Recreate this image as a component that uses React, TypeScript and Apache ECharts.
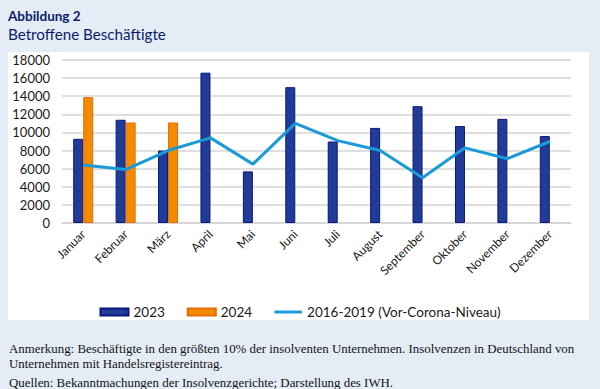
import React, { useEffect, useRef } from "react";
import * as echarts from "echarts";

const months = ["Januar", "Februar", "März", "April", "Mai", "Juni", "Juli", "August", "September", "Oktober", "November", "Dezember"];
const y2023 = [9300, 11400, 8000, 16600, 5700, 15000, 9000, 10500, 12900, 10700, 11500, 9600];
const y2024: (number | null)[] = [13900, 11100, 11100, null, null, null, null, null, null, null, null, null];
const vorCorona = [6400, 5900, 8000, 9400, 6500, 11000, 9100, 8000, 5000, 8300, 7100, 9000];

const titleLine1 = "Abbildung 2";
const titleLine2 = "Betroffene Beschäftigte";
const noteLines = [
  "Anmerkung: Beschäftigte in den größten 10% der insolventen Unternehmen. Insolvenzen in Deutschland von",
  "Unternehmen mit Handelsregistereintrag.",
];
const sourceLine = "Quellen: Bekanntmachungen der Insolvenzgerichte; Darstellung des IWH.";

export default function App() {
  const ref = useRef<HTMLDivElement>(null);
  useEffect(() => {
    if (!ref.current) return;
    const chart = echarts.init(ref.current, null, { renderer: "svg" });
    const font = "Lato, 'Open Sans', sans-serif";
    const serif = "'Liberation Serif', 'DejaVu Serif', serif";
    const noteFont = "12.9px " + serif;
    chart.setOption({
      animation: false,
      backgroundColor: "#e4ecf6",
      textStyle: { fontFamily: font },
      graphic: [
        { type: "rect", z: -10, silent: true, shape: { x: 8, y: 52, width: 581, height: 268 }, style: { fill: "#ffffff" } },
        { type: "text", left: 8, top: 9, style: { text: titleLine1, font: "bold 13.5px " + font, fill: "#0c1c6b" } },
        { type: "text", left: 8, top: 26, style: { text: titleLine2, font: "15.2px " + font, fill: "#0c1c6b" } },
        { type: "text", left: 9, top: 342, style: { text: noteLines[0], font: noteFont, fill: "#141414" } },
        { type: "text", left: 9, top: 357, style: { text: noteLines[1], font: noteFont, fill: "#141414" } },
        { type: "text", left: 9, top: 376, style: { text: sourceLine, font: noteFont, fill: "#141414" } },
      ],
      legend: {
        top: 300,
        left: "center",
        itemWidth: 28,
        itemHeight: 7,
        itemGap: 22,
        textStyle: { fontFamily: font, fontSize: 13.5, color: "#1a1a1a" },
        data: [
          { name: "2023", icon: "rect" },
          { name: "2024", icon: "rect" },
          { name: "2016-2019 (Vor-Corona-Niveau)", icon: "path://M1.5,0 L26.5,0 A1.5,1.5 0 0 1 26.5,3 L1.5,3 A1.5,1.5 0 0 1 1.5,0 Z" },
        ],
      },
      grid: { left: 62, right: 29, top: 60, bottom: 166 },
      xAxis: {
        type: "category",
        data: months,
        axisLine: { show: true, lineStyle: { color: "#d4d4d4", width: 1.5 } },
        axisTick: { show: false },
        axisLabel: { rotate: 45, interval: 0, fontSize: 12, color: "#1a1a1a", margin: 9, fontFamily: font },
      },
      yAxis: {
        type: "value",
        min: 0,
        max: 18000,
        interval: 2000,
        axisLine: { show: false },
        axisTick: { show: false },
        axisLabel: { fontSize: 13, color: "#1a1a1a", margin: 12, fontFamily: font, formatter: (v: number) => String(v) },
        splitLine: { lineStyle: { color: "#d4d4d4", width: 1.5 } },
      },
      series: [
        {
          name: "2023",
          type: "bar",
          data: y2023,
          barWidth: 10,
          barGap: "0%",
          itemStyle: { color: "#213c97", borderColor: "#0b1680", borderWidth: 1 },
        },
        {
          name: "2024",
          type: "bar",
          data: y2024,
          barWidth: 10,
          barGap: "0%",
          itemStyle: { color: "#f38b00", borderColor: "#eb6a0a", borderWidth: 1 },
        },
        {
          name: "2016-2019 (Vor-Corona-Niveau)",
          type: "line",
          data: vorCorona,
          symbol: "none",
          lineStyle: { color: "#1b9ad8", width: 3 },
          itemStyle: { color: "#1b9ad8" },
          z: 5,
        },
      ],
    });
    return () => chart.dispose();
  }, []);
  return <div ref={ref} style={{ position: "fixed", left: 0, top: 0, width: 600, height: 389 }} />;
}
